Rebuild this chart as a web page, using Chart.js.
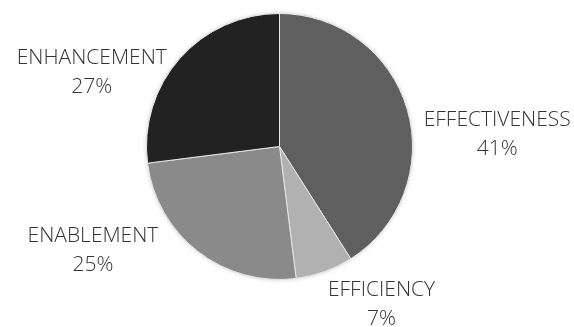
<!DOCTYPE html>
<html>
<head>
<meta charset="utf-8">
<script src="https://cdn.jsdelivr.net/npm/chart.js@4"></script>
<style>
  html, body { margin: 0; padding: 0; background: #fff; }
  #wrap { width: 574px; height: 327px; }
</style>
</head>
<body>
<div id="wrap"><canvas id="pie" width="574" height="327"></canvas></div>
<script>
const labels = ["EFFECTIVENESS", "EFFICIENCY", "ENABLEMENT", "ENHANCEMENT"];
const values = [41, 7, 25, 27];
const colors = ["#5f5f5f", "#b1b1b1", "#8a8a8a", "#222222"];
// label offsets from the outer edge of each slice (middle of slice)
const labelOffsets = [[90, 25], [57, 33], [-105, -1], [-88, 14]];

const total = values.reduce((a, b) => a + b, 0);

// soft halo behind the pie
const halo = {
    id: "halo",
    beforeDatasetsDraw(chart) {
        const arc = chart.getDatasetMeta(0).data[0];
        if (!arc) return;
        const ctx = chart.ctx;
        ctx.save();
        ctx.shadowColor = "rgba(0,0,0,0.35)";
        ctx.shadowBlur = 5;
        ctx.fillStyle = "#888";
        ctx.beginPath();
        ctx.arc(arc.x, arc.y, arc.outerRadius - 1, 0, Math.PI * 2);
        ctx.fill();
        ctx.restore();
    }
};

// labels with category name + percentage
const sliceLabels = {
    id: "sliceLabels",
    afterDatasetsDraw(chart) {
        const ctx = chart.ctx;
        const meta = chart.getDatasetMeta(0);
        ctx.save();
        ctx.fillStyle = "#333333";
        ctx.font = "300 21px 'Open Sans'";
        ctx.textAlign = "center";
        ctx.textBaseline = "middle";
        meta.data.forEach((arc, i) => {
            const mid = (arc.startAngle + arc.endAngle) / 2;
            const px = arc.x + Math.cos(mid) * arc.outerRadius + labelOffsets[i][0];
            const py = arc.y + Math.sin(mid) * arc.outerRadius + labelOffsets[i][1];
            const pct = Math.round(values[i] / total * 100) + "%";
            ctx.fillText(labels[i], px, py - 14.5);
            ctx.fillText(pct, px, py + 14.5);
        });
        ctx.restore();
    }
};

new Chart(document.getElementById("pie"), {
    type: "pie",
    data: {
        labels: labels,
        datasets: [{
            data: values,
            backgroundColor: colors,
            borderColor: "#e8e8e8",
            borderWidth: 1
        }]
    },
    options: {
        responsive: false,
        animation: false,
        layout: { padding: { left: 146, right: 161, top: 13, bottom: 47 } },
        plugins: {
            legend: { display: false },
            tooltip: { enabled: false }
        }
    },
    plugins: [halo, sliceLabels]
});
</script>
</body>
</html>
